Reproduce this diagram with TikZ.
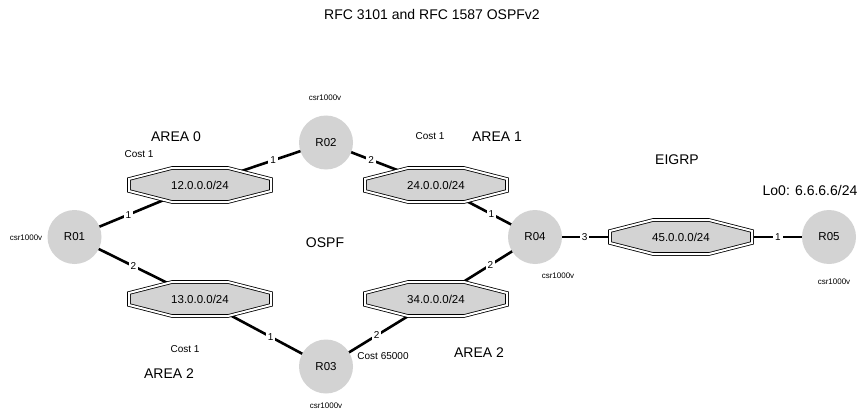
\documentclass[tikz,border=0pt]{standalone}
\usepackage{fontspec}
\setmainfont{Liberation Sans}
\definecolor{routergray}{HTML}{D3D3D3}
\definecolor{netgray}{HTML}{D3D3D3}
\pgfdeclarelayer{edgelayer}
\pgfdeclarelayer{octlayer}
\pgfsetlayers{edgelayer,octlayer,main}
\begin{document}
\begin{tikzpicture}[x=1pt,y=-1pt,
  router/.style={circle, fill=routergray, minimum size=54pt, inner sep=0pt, font=\fontsize{11.5}{13}\selectfont},
  net/.style={inner sep=0pt, minimum width=146pt, minimum height=38pt, font=\fontsize{11.5}{13}\selectfont},
  octa/.style={draw=black, line width=0.8pt, double=white, double distance=2pt, fill=netgray, line join=miter},
  link/.style={line width=2.6pt, black},
  port/.style={fill=white, inner sep=2pt, font=\fontsize{10}{12}\selectfont},
  big/.style={font=\fontsize{14}{16}\selectfont},
  cost/.style={font=\fontsize{10}{12}\selectfont},
  csr/.style={font=\fontsize{8}{10}\selectfont}]
\useasboundingbox (0,0) rectangle (864,417);

% routers
\node[router] (r01) at (74.5,237) {R01};
\node[router] (r02) at (326,142.5) {R02};
\node[router] (r03) at (326,366.5) {R03};
\node[router] (r04) at (535,237) {R04};
\node[router] (r05) at (829,237) {R05};

% networks
\node[net] (n12) at (200,185) {12.0.0.0/24};
\node[net] (n24) at (436,185) {24.0.0.0/24};
\node[net] (n13) at (200,299) {13.0.0.0/24};
\node[net] (n34) at (436,299) {34.0.0.0/24};
\node[net] (n45) at (681,237) {45.0.0.0/24};

\begin{pgfonlayer}{octlayer}
\foreach \n in {n12,n24,n13,n34,n45}
  \path[octa, shift={(\n.center)}] (-71,-6) -- (-28,-17) -- (28,-17) -- (71,-6) -- (71,6) -- (28,17) -- (-28,17) -- (-71,6) -- cycle;
\end{pgfonlayer}

\begin{pgfonlayer}{edgelayer}
\draw[link] (r01.center) -- node[port,pos=0.43] (p1) {1} (n12.center);
\draw[link] (r02.center) -- node[port,pos=0.42] (p2) {1} (n12.center);
\draw[link] (r02.center) -- node[port,pos=0.41] (p3) {2} (n24.center);
\draw[link] (r04.center) -- node[port,pos=0.44] (p4) {1} (n24.center);
\draw[link] (r04.center) -- node[port,pos=0.45] (p5) {2} (n34.center);
\draw[link] (r01.center) -- node[port,pos=0.47] (p6) {2} (n13.center);
\draw[link] (r03.center) -- node[port,pos=0.44] (p7) {1} (n13.center);
\draw[link] (r03.center) -- node[port,pos=0.46] (p8) {2} (n34.center);
\draw[link] (r04.center) -- node[port,pos=0.34] (p9) {3} (n45.center);
\draw[link] (r05.center) -- node[port,pos=0.345] (p10) {1} (n45.center);
\end{pgfonlayer}

% texts
\node[big] (title) at (432,14) {RFC 3101 and RFC 1587 OSPFv2};
\node[big] (a0) at (176,137) {AREA 0};
\node[cost] (c1) at (139,154) {Cost 1};
\node[cost] (c2) at (430,136) {Cost 1};
\node[big] (a1) at (497,137) {AREA 1};
\node[big] (eig) at (677,160) {EIGRP};
\node[big] (lo) at (810,190) {Lo0: 6.6.6.6/24};
\node[big] (ospf) at (325,243) {OSPF};
\node[cost] (c3) at (185,349) {Cost 1};
\node[big] (a2l) at (169,374) {AREA 2};
\node[cost] (c4) at (383,356) {Cost 65000};
\node[big] (a2r) at (479,353) {AREA 2};

\node[csr] (s2) at (325,98) {csr1000v};
\node[csr] (s1) at (26,238) {csr1000v};
\node[csr] (s3) at (326,406) {csr1000v};
\node[csr] (s4) at (558,276) {csr1000v};
\node[csr] (s5) at (834,282) {csr1000v};
\end{tikzpicture}
\end{document}
